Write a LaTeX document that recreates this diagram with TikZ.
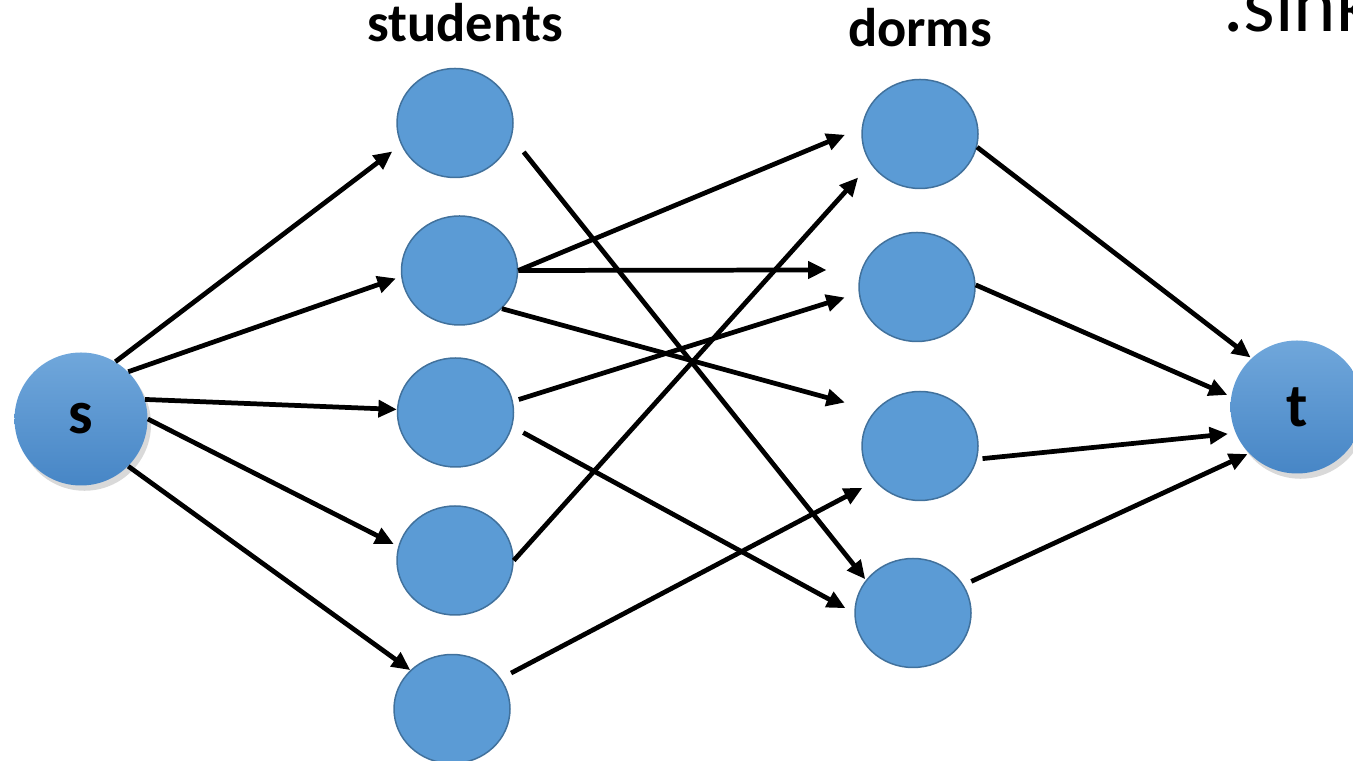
\documentclass[tikz,border=0pt]{standalone}
\usepackage{fontspec}
\setmainfont{Carlito}
\usetikzlibrary{shapes.geometric,arrows.meta,shadows}
\definecolor{nodeblue}{HTML}{5B9BD5}
\definecolor{nodeedge}{HTML}{41719C}
\definecolor{termtop}{HTML}{70A7DB}
\definecolor{termbot}{HTML}{4786C6}
\tikzset{>={Triangle[length=10.5pt,width=9.5pt]}}
\tikzset{
  stu/.style={ellipse, fill=nodeblue, draw=nodeedge, line width=0.85pt,
    minimum width=2.32cm, minimum height=2.18cm, inner sep=0pt},
  term/.style={circle, top color=termtop, bottom color=termbot,
    minimum size=2.66cm, inner sep=0pt, font=\bfseries\fontsize{35}{40}\selectfont,
    drop shadow={shadow xshift=2pt, shadow yshift=-3pt, opacity=0.3}},
  flow/.style={->, line width=2.7pt},
  head/.style={font=\bfseries\fontsize{31}{34}\selectfont, anchor=base, inner sep=0pt}
}

\begin{document}
\begin{tikzpicture}
\clip (0,0) rectangle (27.06,15.22);

\node[term] (s) at (1.62,6.84) {s};
\node[term] (t) at (25.94,7.08) {t};

\node[stu] (st1) at (9.10,12.76) {};
\node[stu] (st2) at (9.19,9.81) {};
\node[stu] (st3) at (9.11,6.97) {};
\node[stu] (st4) at (9.10,4.01) {};
\node[stu] (st5) at (9.04,1.04) {};

\node[stu] (dm1) at (18.40,12.54) {};
\node[stu] (dm2) at (18.34,9.48) {};
\node[stu] (dm3) at (18.40,6.30) {};
\node[stu] (dm4) at (18.26,2.96) {};

\node[head] (lstu) at (9.30,14.38) {students};
\node[head] (ldorm) at (18.40,14.28) {dorms};
\node[anchor=base west, inner sep=0pt, font=\fontsize{46}{50}\selectfont] (lsink) at (24.46,14.58) {.sink};

% source to students
\draw[flow, shorten >=0.22cm] (s.59) -- (st1.202.7);
\draw[flow, shorten >=0.11cm] (s.45) -- (st2.186.6);
\draw[flow] (s.17.5) -- (st3.177.6);
\draw[flow, shorten >=0.10cm] (s.0) -- (st4.166.9);
\draw[flow] (s.-45) -- (st5.137.9);

% students to dorms
\draw[flow, shorten <=0.38cm, shorten >=0.02cm] (st1.-14.1) -- (dm4.145.7);
\draw[flow, shorten >=0.36cm] (st2.0) -- (dm1.174.2);
\draw[flow, shorten >=0.69cm] (st2.0) -- (dm2.163);
\draw[flow, shorten >=0.62cm] (st2.-42.8) -- (dm3.142.3);
\draw[flow, shorten <=0.12cm, shorten >=0.29cm] (st3.11.3) -- (dm2.186.5);
\draw[flow, shorten <=0.25cm, shorten >=0.20cm] (st3.-14.4) -- (dm4.180);
\draw[flow, shorten >=0.37cm] (st4.0) -- (dm1.211.9);
\draw[flow, shorten <=0.23cm, shorten >=0.28cm] (st5.32.7) -- (dm3.218.6);

% dorms to sink
\draw[flow, shorten >=0.02cm] (dm1.-13.6) -- (t.133.8);
\draw[flow, shorten >=0.08cm] (dm2.2) -- (t.171.1);
\draw[flow, shorten <=0.11cm, shorten >=0.15cm] (dm3.-13.4) -- (t.203.1);
\draw[flow, shorten <=0.17cm, shorten >=0.03cm] (dm4.29.5) -- (t.224.9);

\end{tikzpicture}
\end{document}
